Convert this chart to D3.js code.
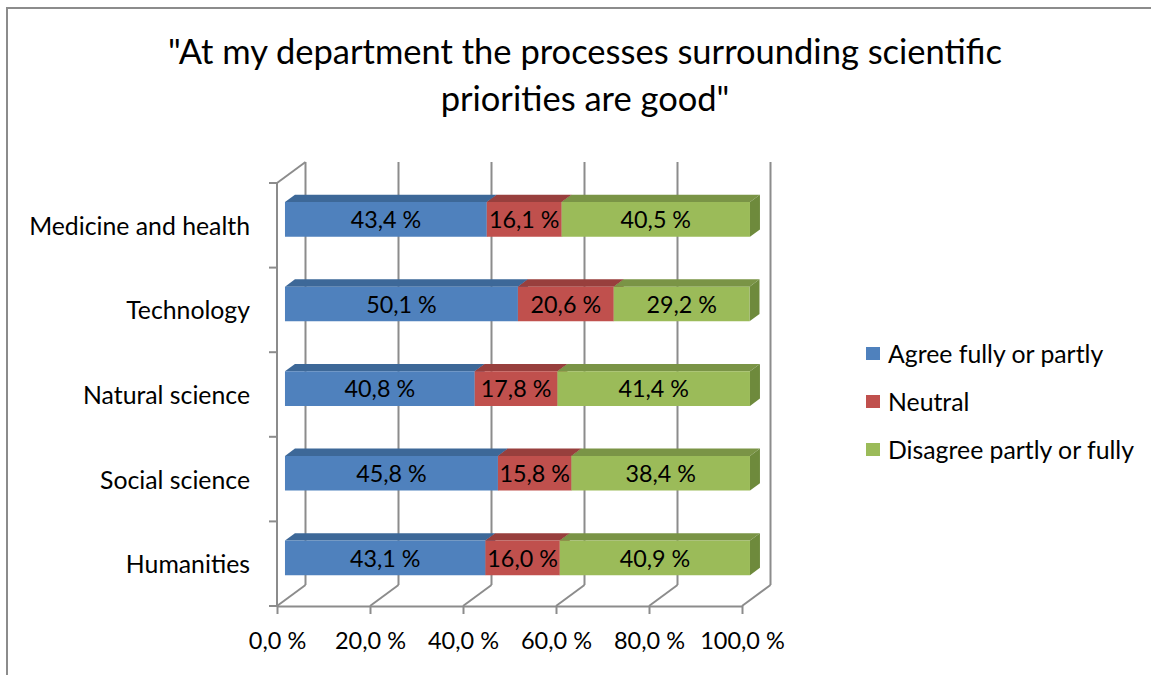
<!DOCTYPE html>
<html>
<head>
<meta charset="utf-8">
<script src="https://cdn.jsdelivr.net/npm/d3@7/dist/d3.min.js"></script>
<style>
  body { margin: 0; background: #fff; }
  text { font-family: Lato, "Open Sans", sans-serif; fill: #000; }
</style>
</head>
<body>
<svg id="chart"></svg>
<script>
const width = 1151;
const height = 675;

const categories = ["Medicine and health", "Technology", "Natural science", "Social science", "Humanities"];
const seriesNames = ["Agree fully or partly", "Neutral", "Disagree partly or fully"];
const agree = [43.4, 50.1, 40.8, 45.8, 43.1];
const neutral = [16.1, 20.6, 17.8, 15.8, 16.0];
const disagree = [40.5, 29.2, 41.4, 38.4, 40.9];
const xTicks = [0, 20, 40, 60, 80, 100];
const titleLines = ["\"At my department the processes surrounding scientific", "priorities are good\""];

const colors = [
  {front: "#4f81bd", top: "#3d6898", side: "#385d8a"},
  {front: "#c0504d", top: "#983f3d", side: "#8c3b39"},
  {front: "#9bbb59", top: "#7a9446", side: "#6e8a3c"}
];

const svg = d3.select("#chart")
              .attr("width", width)
              .attr("height", height);

// outer frame
svg.append("rect")
   .attr("x", 7).attr("y", 8)
   .attr("width", width + 10).attr("height", height + 10)
   .style("fill", "none")
   .style("stroke", "#8c8c8c")
   .style("stroke-width", 2);

// title
svg.append("g").selectAll("text")
   .data(titleLines)
   .enter()
   .append("text")
   .attr("x", 585)
   .attr("y", (d, i) => 64 + i * 47)
   .attr("text-anchor", "middle")
   .style("font-size", "34.5px")
   .text(d => d);

// depth offsets for the 3D look
const DX = 28.5, DY = -21;
const zFront = 0.28, zBack = 0.63;

const x = d3.scaleLinear().domain([0, 100]).range([277, 742]);
const y = d3.scaleBand().domain(categories).range([183, 606]).paddingInner(0.59).paddingOuter(0.295);
const yEdge = d3.scaleLinear().domain([0, categories.length]).range([183, 606]);

const P = (xv, yv, z) => [x(xv) + z * DX, yv + z * DY];
const poly = pts => "M" + pts.map(p => p.join(",")).join("L") + "Z";

const gridColor = "#8c8c8c";
const grid = svg.append("g")
                .style("stroke", gridColor)
                .style("stroke-width", 2)
                .style("fill", "none");

// back wall gridlines
grid.selectAll(".vline")
    .data(xTicks)
    .enter()
    .append("line")
    .attr("x1", d => P(d, 183, 1)[0])
    .attr("x2", d => P(d, 606, 1)[0])
    .attr("y1", d => P(d, 183, 1)[1])
    .attr("y2", d => P(d, 606, 1)[1]);

// floor diagonals
grid.selectAll(".fline")
    .data(xTicks)
    .enter()
    .append("line")
    .attr("x1", d => P(d, 606, 0)[0])
    .attr("y1", d => P(d, 606, 0)[1])
    .attr("x2", d => P(d, 606, 1)[0])
    .attr("y2", d => P(d, 606, 1)[1]);

// side wall
grid.append("line")
    .attr("x1", x(0)).attr("x2", x(0))
    .attr("y1", 183).attr("y2", 606);
grid.append("line")
    .attr("x1", P(0, 183, 0)[0]).attr("y1", P(0, 183, 0)[1])
    .attr("x2", P(0, 183, 1)[0]).attr("y2", P(0, 183, 1)[1]);
grid.selectAll(".ctick")
    .data(d3.range(categories.length + 1))
    .enter()
    .append("line")
    .attr("x1", x(0) - 8).attr("x2", x(0))
    .attr("y1", d => yEdge(d)).attr("y2", d => yEdge(d));

// x axis on the front edge of the floor
const xAxis = svg.append("g")
                 .attr("transform", "translate(0,606)")
                 .call(d3.axisBottom(x)
                         .tickValues(xTicks)
                         .tickSize(8)
                         .tickSizeOuter(0)
                         .tickFormat(d => d.toFixed(1).replace(".", ",") + " %"));
xAxis.select(".domain").style("stroke", gridColor).style("stroke-width", 2);
xAxis.selectAll(".tick line").style("stroke", gridColor).style("stroke-width", 2);
xAxis.selectAll(".tick text")
     .attr("y", 26)
     .style("font-size", "23.5px")
     .style("font-family", "Lato, sans-serif");

// category labels
const yAxis = svg.append("g")
                 .attr("transform", "translate(" + (x(0) - 27) + ",0)")
                 .call(d3.axisLeft(y).tickSize(0).tickPadding(0));
yAxis.select(".domain").remove();
yAxis.selectAll(".tick text")
     .attr("dy", "0.38em")
     .style("font-size", "24.8px")
     .style("font-family", "Lato, sans-serif");

// stacked data
const table = categories.map((c, i) => ({category: c, values: [agree[i], neutral[i], disagree[i]]}));
const segments = [];
table.forEach(row => {
  let start = 0;
  row.values.forEach((v, s) => {
    segments.push({category: row.category, series: s, x0: start, x1: start + v, value: v});
    start += v;
  });
});

const bars = svg.append("g");
segments.forEach(d => {
  const yt = y(d.category), yb = y(d.category) + y.bandwidth();
  const c = colors[d.series];
  // top face
  bars.append("path")
      .attr("d", poly([P(d.x0, yt, zFront), P(d.x1, yt, zFront), P(d.x1, yt, zBack), P(d.x0, yt, zBack)]))
      .style("fill", c.top);
  // side face
  bars.append("path")
      .attr("d", poly([P(d.x1, yt, zFront), P(d.x1, yt, zBack), P(d.x1, yb, zBack), P(d.x1, yb, zFront)]))
      .style("fill", c.side);
  // front face
  bars.append("path")
      .attr("d", poly([P(d.x0, yt, zFront), P(d.x1, yt, zFront), P(d.x1, yb, zFront), P(d.x0, yb, zFront)]))
      .style("fill", c.front);
});

// data labels
svg.append("g").selectAll("text")
   .data(segments)
   .enter()
   .append("text")
   .attr("x", d => P((d.x0 + d.x1) / 2, 0, zFront)[0])
   .attr("y", d => P(0, y(d.category) + y.bandwidth() / 2, zFront)[1])
   .attr("dy", "0.38em")
   .attr("text-anchor", "middle")
   .style("font-size", "23.3px")
   .text(d => d.value.toFixed(1).replace(".", ",") + " %");

// legend
const legend = svg.append("g")
                  .selectAll("g")
                  .data(seriesNames)
                  .enter()
                  .append("g")
                  .attr("transform", (d, i) => "translate(866," + (354 + i * 48) + ")");
legend.append("rect")
      .attr("x", 0).attr("y", -7)
      .attr("width", 14).attr("height", 13)
      .style("fill", (d, i) => colors[i].front);
legend.append("text")
      .attr("x", 22)
      .attr("dy", "0.38em")
      .style("font-size", "24.8px")
      .text(d => d);
</script>
</body>
</html>
